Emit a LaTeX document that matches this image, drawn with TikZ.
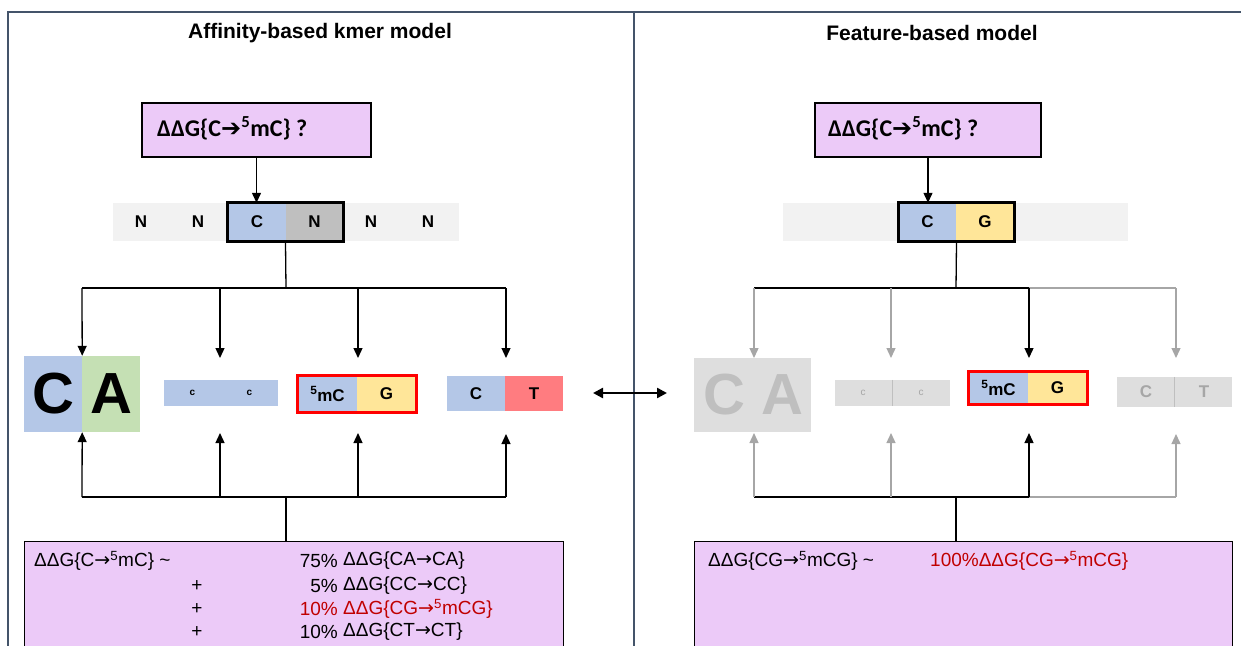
\documentclass[tikz,border=0pt]{standalone}
\usepackage{fontspec}
\setmainfont{Liberation Sans}
\newfontfamily\calfont{Carlito}
\newfontfamily\symfont{DejaVu Sans}
\usetikzlibrary{arrows.meta,fit}

\definecolor{panelline}{HTML}{44546A}
\definecolor{purp}{HTML}{ECCAF8}
\definecolor{cblue}{HTML}{B4C7E7}
\definecolor{cgreen}{HTML}{C5E0B4}
\definecolor{cgray}{HTML}{BFBFBF}
\definecolor{cstrip}{HTML}{F2F2F2}
\definecolor{cyellow}{HTML}{FFE699}
\definecolor{csalmon}{HTML}{FF7C80}
\definecolor{ghost}{HTML}{DEDEDE}
\definecolor{ghosttext}{HTML}{A6A6A6}
\definecolor{ghostline}{HTML}{A6A6A6}
\definecolor{darkred}{HTML}{C00000}

\newcommand\rarr{{\symfont →}}
\newcommand\brarr{{\symfont\bfseries ➔}}
\newcommand\tsup[1]{\textsuperscript{#1}}

\tikzset{
  panelrule/.style={draw=panelline, line width=2pt},
  ttl/.style={font=\bfseries\fontsize{21}{23}\selectfont, inner sep=0},
  query/.style={draw=black, line width=1.3pt, fill=purp},
  qtext/.style={font=\calfont\bfseries\fontsize{24}{26}\selectfont, inner sep=0, anchor=west},
  cell/.style={inner sep=0, font=\bfseries\fontsize{17}{19}\selectfont},
  tiny/.style={inner sep=0, font=\bfseries\fontsize{10}{12}\selectfont},
  big/.style={inner sep=0, font=\bfseries\fontsize{58}{60}\selectfont},
  kframe/.style={draw=black, line width=3pt, inner sep=0},
  rframe/.style={draw=red, line width=3pt, inner sep=0},
  con/.style={line width=1.3pt},
  arr/.style={con, -{Triangle[width=9pt,length=10pt]}},
  garr/.style={arr, color=ghostline},
  btext/.style={inner sep=0, font=\fontsize{19}{21}\selectfont},
}

\begin{document}
\begin{tikzpicture}[x=1pt, y=-1pt]
\useasboundingbox (0,0) rectangle (1241,645);
\clip (0,0) rectangle (1241,645);

% panel rules
\draw[panelrule] (8,646) -- (8,12) -- (1242,12);
\draw[panelrule] (634,12) -- (634,646);

% titles
\node[ttl] (titleL) at (320,33) {Affinity-based kmer model};
\node[ttl] (titleR) at (932,33) {Feature-based model};

% ================= left panel =================
\node[query, minimum width=229, minimum height=54] (qL) at (256.5,130) {};
\node[qtext] (qLt) at (157,128) {ΔΔG\{C\brarr\tsup{5}mC\} ?};

\node[fill=cstrip, minimum width=346, minimum height=38, inner sep=0] (stripL) at (286,222) {};
\node[cell] (n1L) at (141,222) {N};
\node[cell] (n2L) at (198,222) {N};
\node[cell, fill=cblue, minimum width=58, minimum height=38] (cL) at (257,222) {C};
\node[cell, fill=cgray, minimum width=57, minimum height=38] (nL) at (314.5,222) {N};
\node[cell] (n3L) at (371,222) {N};
\node[cell] (n4L) at (428,222) {N};
\node[kframe, fit=(cL)(nL)] (kL) {};

% target boxes
\node[big, fill=cblue, minimum width=58, minimum height=76] (caCL) at (53,394) {C};
\node[big, fill=cgreen, minimum width=58, minimum height=76] (caAL) at (111,394) {A};

\node[tiny, fill=cblue, minimum width=57, minimum height=26] (cc1L) at (192.5,393) {c};
\node[tiny, fill=cblue, minimum width=57, minimum height=26] (cc2L) at (249.5,393) {c};

\node[cell, fill=cblue, minimum width=59, minimum height=36] (mL) at (327.5,394) {\tsup{5}mC};
\node[cell, fill=cyellow, minimum width=59, minimum height=36] (gL) at (386.5,394) {G};
\node[rframe, fit=(mL)(gL)] (rL) {};

\node[cell, fill=cblue, minimum width=58, minimum height=35] (ctCL) at (476,393.5) {C};
\node[cell, fill=csalmon, minimum width=58, minimum height=35] (ctTL) at (534,393.5) {T};

% connectors
\draw[arr] (qL.south) -- (qL.south |- cL.north);
\coordinate (forkL) at (286,288);
\coordinate (d1L) at (82,288);
\coordinate (d2L) at (220,288);
\coordinate (d3L) at (358,288);
\coordinate (d4L) at (506,288);
\coordinate (e2L) at (220,358);
\coordinate (e3L) at (358,358);
\coordinate (e4L) at (506,358);
\draw[con] (kL.south) -- (forkL);
\draw[con] (d1L) -- (d4L);
\draw[arr] (d1L) -- (caCL.north east);
\draw[arr] (d2L) -- (e2L);
\draw[arr] (d3L) -- (e3L);
\draw[arr] (d4L) -- (e4L);

\node[query, anchor=north west, minimum width=539, minimum height=130] (bL) at (24,541) {};
\coordinate (joinL) at (286,497);
\coordinate (u1L) at (82,497);
\coordinate (u2L) at (220,497);
\coordinate (u3L) at (358,497);
\coordinate (u4L) at (506,497);
\coordinate (t2L) at (220,433);
\coordinate (t3L) at (358,433);
\coordinate (t4L) at (506,434);
\draw[con] (bL.north -| joinL) -- (joinL);
\draw[con] (u1L) -- (u4L);
\draw[arr] (u1L) -- (caCL.south east);
\draw[arr] (u2L) -- (t2L);
\draw[arr] (u3L) -- (t3L);
\draw[arr] (u4L) -- (t4L);

% formula, left
\node[btext, anchor=west] (fL0) at (34,561) {ΔΔG\{C\rarr\tsup{5}mC\} \textasciitilde};
\node[btext, anchor=east] (p1L) at (338,561) {75\%};
\node[btext, anchor=west] (f1L) at (343,561) {ΔΔG\{CA\rarr CA\}};
\node[btext] (plus2L) at (197,586) {+};
\node[btext, anchor=east] (p2L) at (338,586) {5\%};
\node[btext, anchor=west] (f2L) at (343,586) {ΔΔG\{CC\rarr CC\}};
\node[btext] (plus3L) at (197,609) {+};
\node[btext, anchor=east, text=darkred] (p3L) at (338,609) {10\%};
\node[btext, anchor=west, text=darkred] (f3L) at (343,609) {ΔΔG\{CG\rarr\tsup{5}mCG\}};
\node[btext] (plus4L) at (197,632) {+};
\node[btext, anchor=east] (p4L) at (338,632) {10\%};
\node[btext, anchor=west] (f4L) at (343,632) {ΔΔG\{CT\rarr CT\}};

% ================= right panel =================
\node[query, minimum width=226, minimum height=54] (qR) at (928,130) {};
\node[qtext] (qRt) at (828,128) {ΔΔG\{C\brarr\tsup{5}mC\} ?};

\node[fill=cstrip, minimum width=345, minimum height=38, inner sep=0] (stripR) at (955.5,222) {};
\node[cell, fill=cblue, minimum width=57, minimum height=38] (cR) at (927.5,222) {C};
\node[cell, fill=cyellow, minimum width=58, minimum height=38] (gR0) at (985,222) {G};
\node[kframe, fit=(cR)(gR0)] (kR) {};

% target boxes, faded
\node[fill=ghost, minimum width=117, minimum height=74, inner sep=0] (caR) at (752.5,395) {};
\node[big, text=cgray] (caCR) at (724,395) {C};
\node[big, text=cgray] (caAR) at (782,395) {A};

\node[fill=ghost, minimum width=115, minimum height=26, inner sep=0] (ccR) at (892.5,393) {};
\draw[cgray, line width=0.8pt] (ccR.north) -- (ccR.south);
\node[tiny, text=ghosttext, font=\fontsize{10}{12}\selectfont] (cc1R) at (863,393) {c};
\node[tiny, text=ghosttext, font=\fontsize{10}{12}\selectfont] (cc2R) at (921,393) {c};

\node[cell, fill=cblue, minimum width=59, minimum height=33] (mR) at (998.5,388) {\tsup{5}mC};
\node[cell, fill=cyellow, minimum width=59, minimum height=33] (gR) at (1057.5,388) {G};
\node[rframe, fit=(mR)(gR)] (rR) {};

\node[fill=ghost, minimum width=115, minimum height=30, inner sep=0] (ctR) at (1174.5,392) {};
\draw[cgray, line width=0.8pt] (ctR.north) -- (ctR.south);
\node[cell, text=ghosttext] (ctCR) at (1146,392) {C};
\node[cell, text=ghosttext] (ctTR) at (1204,392) {T};

% connectors
\draw[arr] (qR.south) -- (qR.south |- cR.north);
\coordinate (forkR) at (956,288);
\coordinate (d1R) at (754,288);
\coordinate (d2R) at (891,288);
\coordinate (d3R) at (1029,288);
\coordinate (d4R) at (1176,288);
\coordinate (e1R) at (754,358);
\coordinate (e2R) at (891,358);
\coordinate (e3R) at (1029,358);
\coordinate (e4R) at (1176,358);
\draw[con] (kR.south) -- (forkR);
\draw[con] (d1R) -- (d3R);
\draw[con, ghostline] (d3R) -- (d4R);
\draw[garr] (d1R) -- (e1R);
\draw[garr] (d2R) -- (e2R);
\draw[arr] (d3R) -- (e3R);
\draw[garr] (d4R) -- (e4R);

\node[query, anchor=north west, minimum width=538, minimum height=130] (bR) at (694,541) {};
\coordinate (joinR) at (956,497);
\coordinate (u1R) at (754,497);
\coordinate (u2R) at (891,497);
\coordinate (u3R) at (1029,497);
\coordinate (u4R) at (1176,497);
\coordinate (t1R) at (754,433);
\coordinate (t2R) at (891,433);
\coordinate (t3R) at (1029,433);
\coordinate (t4R) at (1176,434);
\draw[con] (bR.north -| joinR) -- (joinR);
\draw[con] (u1R) -- (u3R);
\draw[con, ghostline] (u3R) -- (u4R);
\draw[garr] (u1R) -- (t1R);
\draw[garr] (u2R) -- (t2R);
\draw[arr] (u3R) -- (t3R);
\draw[garr] (u4R) -- (t4R);

% formula, right
\node[btext, anchor=west] (fR0) at (708,561) {ΔΔG\{CG\rarr\tsup{5}mCG\} \textasciitilde};
\node[btext, anchor=west, text=darkred] (fR1) at (930,561) {100\%ΔΔG\{CG\rarr\tsup{5}mCG\}};

% link between the two models
\coordinate (linkL) at (593,393);
\coordinate (linkR) at (667,393);
\draw[line width=2.4pt, {Triangle[width=10pt,length=10pt]}-{Triangle[width=10pt,length=10pt]}] (linkL) -- (linkR);
\end{tikzpicture}
\end{document}
